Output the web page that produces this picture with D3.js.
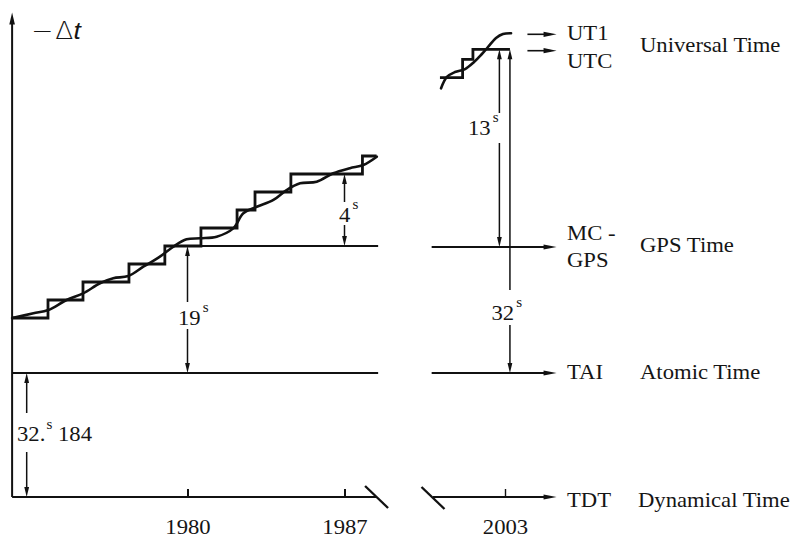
<!DOCTYPE html>
<html><head><meta charset="utf-8">
<script src="https://cdn.jsdelivr.net/npm/d3@7"></script>
<style>
html,body{margin:0;padding:0;background:#fff;}
svg{display:block;}
</style></head><body>
<svg id="c" width="793" height="537"></svg>
<script>
// ================= DATA =================
// x tick labels (years)
const xTicksLeft = [1980, 1987];
const xTicksRight = [2003];
// reference time scales, offset above TDT (s)
const TDT = 0, TAI = 32.184, GPS = TAI + 19;
// leap-second staircase, TAI−UTC (s) — left panel
const stepYearsLeft  = [1972.18, 1973.78, 1975.34, 1977.39, 1978.99, 1980.60, 1982.21, 1983.01, 1984.61, 1987.80, 1988.43];
const stepLevelsLeft = [15, 16, 17, 18, 19, 20, 21, 22, 23, 24, 24];
// UT1 curve, TAI−UT1 (s) — left panel
const ut1YearsLeft  = [1972.18, 1973.13, 1973.79, 1974.61, 1975.35, 1976.10, 1976.69, 1977.36, 1978.03, 1978.77, 1979.37, 1979.96, 1980.56, 1981.30, 1982.04, 1982.49, 1983.09, 1983.83, 1984.42, 1985.02, 1985.76, 1986.50, 1987.24, 1987.84, 1988.44];
const ut1LevelsLeft = [14.98, 15.26, 15.44, 16.00, 16.37, 16.93, 17.21, 17.33, 17.85, 18.41, 18.96, 19.37, 19.43, 19.52, 19.98, 20.82, 21.18, 21.56, 22.11, 22.48, 22.57, 23.04, 23.32, 23.50, 23.96];
// right panel (around 2003)
const stepYearsRight  = [2000.10, 2001.11, 2001.57, 2003.22];
const stepLevelsRight = [30, 31, 32, 32];
const ut1YearsRight  = [2000.15, 2000.41, 2000.77, 2001.22, 2001.62, 2001.93, 2002.24, 2002.60, 2002.91, 2003.27];
const ut1LevelsRight = [29.31, 30.04, 30.31, 30.47, 30.85, 31.43, 32.23, 33.13, 33.53, 33.60];
// panel extents (years)
const leftStart = 1972.18, leftEnd = 1988.50, leftAxisEnd = 1988.43;
const rightStart = 1999.73, rightAxisStart = 1999.79, rightEnd = 2005.30, shortArrowStart = 2004.0;
// offsets annotated (s)
const gpsMinusUtcLeft = 4, gpsTaiDiff = 19, taiTdtDiff = 32.184, gpsMinusUtcRight = 13, taiMinusUtcRight = 32;

// ================= SCALES =================
const xL = d3.scaleLinear().domain([1980, 1987]).range([187.5, 344.5]);
const xR = d3.scaleLinear().domain([2003, 2004]).range([505, 527.43]);
// schematic (not to scale) vertical axes: piecewise linear
const yL = d3.scaleLinear().domain([TDT, TAI, TAI + 15, TAI + 24]).range([497, 373, 318, 156]);
const yR = d3.scaleLinear().domain([TDT, TAI, GPS, TAI + 30, TAI + 31, TAI + 32]).range([497, 373, 247, 77.7, 59.3, 49.3]);

const svg = d3.select('#c');
const ink = '#111';
const SERIF = 'Liberation Serif';
const SX = 1.08, FS = 21;

function line(x1, y1, x2, y2, w) {
  svg.append('line').attr('x1', x1).attr('y1', y1).attr('x2', x2).attr('y2', y2)
    .attr('stroke', ink).attr('stroke-width', w);
}
function head(x, y, dir, len = 12, hw = 2.6) {
  let p;
  if (dir === 'right') p = [[x, y], [x - len, y - hw], [x - len, y + hw]];
  if (dir === 'up') p = [[x, y], [x - hw, y + len], [x + hw, y + len]];
  if (dir === 'down') p = [[x, y], [x - hw, y - len], [x + hw, y - len]];
  svg.append('path').attr('d', 'M' + p.join('L') + 'Z').attr('fill', ink);
}
function label(x, y, parts, anchor = 'start', fs = FS) {
  const t = svg.append('text').attr('transform', `translate(${x},${y}) scale(${SX},1)`)
    .attr('font-family', SERIF).attr('fill', '#151515')
    .attr('font-size', fs).attr('text-anchor', anchor);
  parts.forEach(p => {
    const s = t.append('tspan').text(p.t);
    if (p.dx) s.attr('dx', p.dx);
    if (p.dy) s.attr('dy', p.dy);
    if (p.fs) s.attr('font-size', p.fs);
  });
  return t;
}

// ================= AXES =================
const yBase = yL(TDT);
// vertical axis
line(xL(leftStart), yBase, xL(leftStart), 22, 2);
head(xL(leftStart), 12.5, 'up', 12, 2.8);
// −Δt label
svg.append('text').attr('transform', `translate(31,38.5) scale(1.1,1)`).attr('font-size', 24)
  .attr('fill', '#151515')
  .call(t => {
    t.append('tspan').text('−').attr('font-family', 'DejaVu Sans').attr('font-weight', 300);
    t.append('tspan').text('Δ').attr('dx', 2).attr('font-family', 'DejaVu Sans').attr('font-weight', 300);
    t.append('tspan').text('t').attr('font-style', 'italic').attr('font-family', 'Liberation Sans');
  });

// TDT axis (left & right parts)
line(xL(leftStart), yBase, xL(leftAxisEnd), yBase, 2);
line(xR(rightAxisStart), yBase, xR(rightEnd) - 6, yBase, 2);
head(xR(rightEnd), yBase, 'right', 13, 2.6);
// break marks
[[xL(leftAxisEnd), yBase], [xR(rightAxisStart), yBase + 1]].forEach(([cx, cy]) => {
  line(cx - 11.5, cy - 11, cx + 11.5, cy + 11, 2.4);
});

function ticks(scale, vals, w) {
  const g = svg.append('g').attr('transform', `translate(0,${yBase})`)
    .call(d3.axisBottom(scale).tickValues(vals).tickSize(-8).tickPadding(22).tickFormat(d3.format('d')));
  g.select('.domain').remove();
  g.attr('font-family', SERIF).attr('font-size', FS);
  g.selectAll('line').attr('stroke', ink).attr('stroke-width', w);
  g.selectAll('text').attr('font-family', SERIF).attr('font-size', FS).attr('fill', '#151515')
    .attr('transform', `scale(${SX},1)`);
}
ticks(xL, xTicksLeft, 2);
ticks(xR, xTicksRight, 1.4);

// ================= REFERENCE LINES =================
const gpsStartYear = stepYearsLeft[stepLevelsLeft.indexOf(gpsTaiDiff)];
line(xL(gpsStartYear), yL(GPS), xL(leftEnd), yL(GPS), 2);
line(xR(rightStart), yR(GPS), xR(rightEnd) - 6, yR(GPS), 2);
head(xR(rightEnd), yR(GPS), 'right', 13, 2.6);
line(xL(leftStart), yL(TAI), xL(leftEnd), yL(TAI), 2);
line(xR(rightStart), yR(TAI), xR(rightEnd) - 6, yR(TAI), 2);
head(xR(rightEnd), yR(TAI), 'right', 13, 2.6);

// ================= STAIRCASES & UT1 =================
const stepLine = (x, y) => d3.line().x(d => x(d[0])).y(d => y(TAI + d[1])).curve(d3.curveStepAfter);
const smooth = (x, y) => d3.line().x(d => x(d[0])).y(d => y(TAI + d[1])).curve(d3.curveCatmullRom.alpha(0.5));
const zipL = d3.zip(stepYearsLeft, stepLevelsLeft), zipR = d3.zip(stepYearsRight, stepLevelsRight);
const uL = d3.zip(ut1YearsLeft, ut1LevelsLeft), uR = d3.zip(ut1YearsRight, ut1LevelsRight);
svg.append('path').attr('d', stepLine(xL, yL)(zipL)).attr('fill', 'none').attr('stroke', ink).attr('stroke-width', 2.8);
svg.append('path').attr('d', smooth(xL, yL)(uL)).attr('fill', 'none').attr('stroke', ink).attr('stroke-width', 2.6).attr('stroke-linecap', 'round');
svg.append('path').attr('d', stepLine(xR, yR)(zipR)).attr('fill', 'none').attr('stroke', ink).attr('stroke-width', 2.8);
svg.append('path').attr('d', smooth(xR, yR)(uR)).attr('fill', 'none').attr('stroke', ink).attr('stroke-width', 2.6).attr('stroke-linecap', 'round');

// UT1 / UTC short arrows
const ut1End = ut1LevelsRight[ut1LevelsRight.length - 1];
const utcEnd = stepLevelsRight[stepLevelsRight.length - 1];
[yR(TAI + ut1End) + 1, yR(TAI + utcEnd) + 1.4].forEach(yy => {
  line(xR(shortArrowStart), yy, xR(rightEnd) - 6, yy, 1.6);
  head(xR(rightEnd), yy, 'right', 13, 2.6);
});

// ================= DIMENSION ARROWS =================
function dim(x, yTop, yBot, baseline, parts, lx, gapTop, gapBot) {
  label(lx, baseline, parts, 'start');
  line(x, yTop + 8, x, gapTop, 1.5);
  line(x, gapBot, x, yBot - 8, 1.5);
  head(x, yTop, 'up', 10, 2.4);
  head(x, yBot, 'down', 10, 2.4);
}
const sup = s => ({ t: s, fs: 14, dy: -13, dx: 2 });
dim(xL(1980), yL(GPS), yL(TAI), 325, [{ t: String(gpsTaiDiff) }, sup('s')], xL(1980) - 9.5, 302, 329);
dim(xL(1987), yL(TAI + 23), yL(GPS), 222, [{ t: String(gpsMinusUtcLeft) }, sup('s')], xL(1987) - 5.5, 202, 225);
dim(xL(1972.83), yL(TAI), yL(TDT), 441,
  [{ t: '32.' }, { t: 's', fs: 14, dy: -12, dx: 1 }, { t: ' 184', dy: 12, fs: FS }], 17, 413, 452);
dim(xR(2002.75), yR(TAI + taiMinusUtcRight), yR(GPS), 135, [{ t: String(gpsMinusUtcRight) }, sup('s')], 468, 113, 143);
(function () {
  const x = xR(2003.22);
  label(491.5, 320, [{ t: String(taiMinusUtcRight) }, sup('s')], 'start');
  line(x, yR(TAI + taiMinusUtcRight) + 8, x, 290, 1.5);
  line(x, 325, x, yR(TAI) - 8, 1.5);
  head(x, yR(TAI + taiMinusUtcRight), 'up', 10, 2.4);
  head(x, yR(TAI), 'down', 10, 2.4);
})();

// ================= RIGHT-HAND LABELS =================
const lx = 567, nx = 640;
label(lx, 40, [{ t: 'UT1' }]);
label(lx, 68.3, [{ t: 'UTC' }]);
label(nx, 51.7, [{ t: 'Universal Time' }]);
label(lx, 240, [{ t: 'MC -' }]);
label(lx, 267.3, [{ t: 'GPS' }]);
label(nx, 251.7, [{ t: 'GPS Time' }]);
label(lx, 379, [{ t: 'TAI' }]);
label(nx, 379, [{ t: 'Atomic Time' }]);
label(lx, 506.7, [{ t: 'TDT' }]);
label(nx - 2, 506.7, [{ t: 'Dynamical Time' }]);
</script>
</body></html>
